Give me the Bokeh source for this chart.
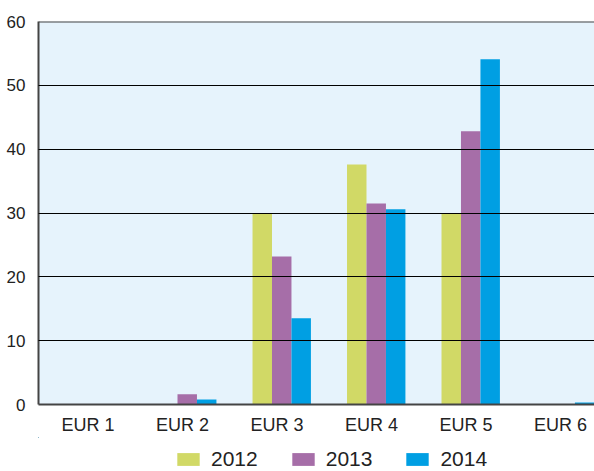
from bokeh.plotting import figure
from bokeh.layouts import column
from bokeh.models import Range1d, FixedTicker, Legend, LegendItem, Span, ColumnDataSource
from bokeh.transform import dodge
from bokeh.embed import file_html
from bokeh.resources import INLINE

categories = ["EUR 1", "EUR 2", "EUR 3", "EUR 4", "EUR 5", "EUR 6"]
years = ["2012", "2013", "2014"]
v2012 = [0, 0, 30.0, 37.6, 30.0, 0]
v2013 = [0, 1.6, 23.2, 31.5, 42.8, 0]
v2014 = [0, 0.8, 13.5, 30.6, 54.1, 0.3]
colors = ["#d1d966", "#a66ea8", "#009fe3"]
y_ticks = [0, 10, 20, 30, 40, 50, 60]

FONT = "Liberation Sans"
idx = list(range(len(categories)))
cols = ["y2012", "y2013", "y2014"]
src = ColumnDataSource(dict(x=[i + 0.05 for i in idx], y2012=v2012, y2013=v2013, y2014=v2014))

p = figure(frame_width=556, frame_height=383, output_backend="svg", toolbar_location=None,
           x_range=Range1d(-0.524, 5.36), y_range=Range1d(0, 60),
           min_border_left=38, min_border_right=0, min_border_top=21, min_border_bottom=26)
p.background_fill_color = "#e6f3fc"
p.border_fill_color = "white"
p.outline_line_color = None

w = 0.206
for k, (col, c) in enumerate(zip(cols, colors)):
    p.vbar(x=dodge("x", (k - 1) * w, range=p.x_range), top=col, width=w, source=src,
           fill_color=c, line_color=None)

p.xaxis.ticker = FixedTicker(ticks=idx)
p.xaxis.major_label_overrides = {i: categories[i] for i in idx}
p.yaxis.ticker = FixedTicker(ticks=y_ticks)
for ax in (p.xaxis, p.yaxis):
    ax.major_tick_line_color = None
    ax.minor_tick_line_color = None
    ax.axis_line_color = "#444444"
    ax.axis_line_width = 2
    ax.major_label_text_font = FONT
    ax.major_label_text_color = "#222222"
p.xaxis.major_label_text_font_size = "18px"
p.yaxis.major_label_text_font_size = "17px"
p.xaxis.major_label_standoff = 4
p.yaxis.major_label_standoff = 7

p.xgrid.grid_line_color = None
p.ygrid.grid_line_color = "black"
p.ygrid.grid_line_width = 1
p.ygrid.level = "overlay"

p.add_layout(Span(location=60, dimension="width", line_color="#444444", line_width=2))

# legend strip below the chart (same data renderers, kept out of its visible range)
lg = figure(width=594, height=34, output_backend="svg", toolbar_location=None,
            x_range=Range1d(100, 101), y_range=Range1d(-300, -200),
            x_axis_location=None, y_axis_location=None, min_border=0)
lg.outline_line_color = None
lg.grid.visible = False
lg.background_fill_color = "white"
items = []
for y, col, c in zip(years, cols, colors):
    r = lg.vbar(x="x", top=col, width=0.1, source=src, fill_color=c, line_color=None)
    items.append(LegendItem(label=y, renderers=[r]))

legend = Legend(items=items, orientation="horizontal", location=(136, 0))
legend.glyph_width = 28
legend.glyph_height = 16
legend.label_standoff = 9
legend.spacing = 31
legend.padding = 0
legend.margin = 0
legend.border_line_color = None
legend.background_fill_alpha = 0
legend.label_text_font = FONT
legend.label_text_font_size = "21px"
legend.label_text_color = "#222222"
lg.add_layout(legend)

layout = column(p, lg, spacing=0)
open("out.html", "w").write(file_html(layout, INLINE))
